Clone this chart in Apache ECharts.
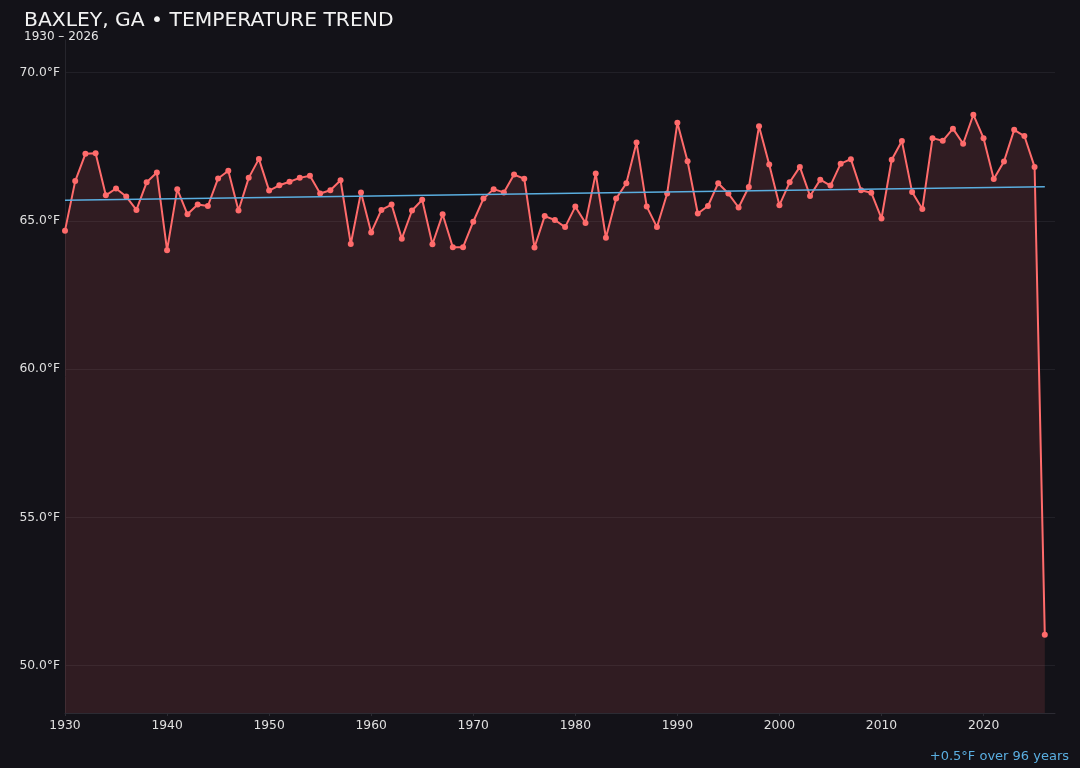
<!DOCTYPE html>
<html>
<head>
<meta charset="utf-8">
<script src="https://cdn.jsdelivr.net/npm/echarts@6/dist/echarts.min.js"></script>
<style>
    html, body { margin: 0; padding: 0; background: #131218; }
    #temp_chart { width: 1080px; height: 768px; }
</style>
</head>
<body>
<div id="temp_chart"></div>
<script>
var years = [];
for (var y = 1930; y <= 2026; y++) years.push(y);

// yearly mean temperature, °F
var temps = [
    64.67, 66.34, 67.26, 67.28, 65.86, 66.09, 65.82, 65.37, 66.30, 66.63,
    64.01, 66.07, 65.22, 65.55, 65.50, 66.43, 66.69, 65.35, 66.45, 67.09,
    66.02, 66.20, 66.32, 66.45, 66.52, 65.92, 66.03, 66.37, 64.22, 65.96,
    64.61, 65.37, 65.55, 64.40, 65.35, 65.71, 64.21, 65.22, 64.11, 64.11,
    64.97, 65.75, 66.07, 65.96, 66.56, 66.42, 64.10, 65.16, 65.03, 64.79,
    65.48, 64.93, 66.60, 64.43, 65.75, 66.27, 67.64, 65.48, 64.79, 65.92,
    68.31, 67.01, 65.25, 65.50, 66.27, 65.92, 65.45, 66.14, 68.19, 66.90,
    65.53, 66.30, 66.82, 65.84, 66.39, 66.19, 66.93, 67.08, 66.03, 65.95,
    65.08, 67.06, 67.69, 65.97, 65.40, 67.79, 67.70, 68.11, 67.60, 68.58,
    67.79, 66.41, 67.00, 68.07, 67.86, 66.82, 51.04
];

var yTicks = [50, 55, 60, 65, 70];

// least squares trend over the whole record
function trendLine(xs, ys) {
    var n = xs.length, sx = 0, sy = 0, sxx = 0, sxy = 0;
    for (var i = 0; i < n; i++) {
        sx += xs[i]; sy += ys[i];
        sxx += xs[i] * xs[i]; sxy += xs[i] * ys[i];
    }
    var slope = (n * sxy - sx * sy) / (n * sxx - sx * sx);
    var icpt = (sy - slope * sx) / n;
    var x0 = xs[0], x1 = xs[n - 1];
    return { slope: slope, pts: [[x0, icpt + slope * x0], [x1, icpt + slope * x1]] };
}

var chart;
function initChart() {
    chart = echarts.init(document.getElementById('temp_chart'));

    var data = years.map(function (yr, i) { return [yr, temps[i]]; });
    var trend = trendLine(years, temps);
    var span = years[years.length - 1] - years[0];
    var delta = trend.slope * span;

    var option = {
        backgroundColor: '#131218',
        title: {
            text: 'BAXLEY, GA • TEMPERATURE TREND',
            subtext: years[0] + ' – ' + years[years.length - 1],
            left: 19,
            top: 6,
            itemGap: 0,
            textStyle: { color: '#f2f2f2', fontSize: 20.3, fontWeight: 'normal', fontFamily: 'DejaVu Sans' },
            subtextStyle: { color: '#e6e6e6', fontSize: 12, fontFamily: 'DejaVu Sans' }
        },
        graphic: [{
            type: 'text',
            right: 11,
            bottom: 5,
            style: {
                text: (delta >= 0 ? '+' : '') + delta.toFixed(1) + '°F over ' + span + ' years',
                fill: '#5aaee0',
                fontSize: 13,
                fontFamily: 'DejaVu Sans'
            }
        }],
        grid: { left: 65, right: 25, top: 40, bottom: 55 },
        xAxis: {
            type: 'value',
            min: 1930,
            max: 2027,
            interval: 10,
            axisLine: { lineStyle: { color: '#2c2b33' } },
            axisTick: { show: true, length: 3, lineStyle: { color: '#2c2b33' } },
            axisLabel: {
                color: '#e0e0e0', fontSize: 12.3, fontFamily: 'DejaVu Sans', showMaxLabel: false, margin: 7,
                formatter: function (v) { return String(v); }
            },
            splitLine: { show: false }
        },
        yAxis: {
            type: 'value',
            min: 48.4,
            max: 71.1,
            splitNumber: 5,
            axisLine: { show: true, lineStyle: { color: '#26252c' } },
            axisTick: { show: false },
            axisLabel: {
                color: '#e0e0e0', fontSize: 12.3, fontFamily: 'DejaVu Sans', margin: 5,
                showMinLabel: false, showMaxLabel: false,
                formatter: function (v) { return yTicks.indexOf(v) >= 0 ? v.toFixed(1) + '°F' : ''; }
            },
            splitLine: { show: true, showMinLine: false, showMaxLine: false, lineStyle: { color: '#212027' } }
        },
        series: [
            {
                name: 'temp',
                type: 'line',
                data: data,
                symbol: 'circle',
                symbolSize: 6,
                itemStyle: { color: '#ff6b6b' },
                lineStyle: { color: '#ff6b6b', width: 2 },
                areaStyle: { color: 'rgba(255,107,107,0.18)' },
                z: 3
            },
            {
                name: 'trend',
                type: 'line',
                data: trend.pts,
                symbol: 'none',
                lineStyle: { color: '#5aaee0', width: 1.5 },
                z: 4
            }
        ]
    };

    chart.setOption(option);
}

window.onload = function () {
    initChart();
};
</script>
</body>
</html>
